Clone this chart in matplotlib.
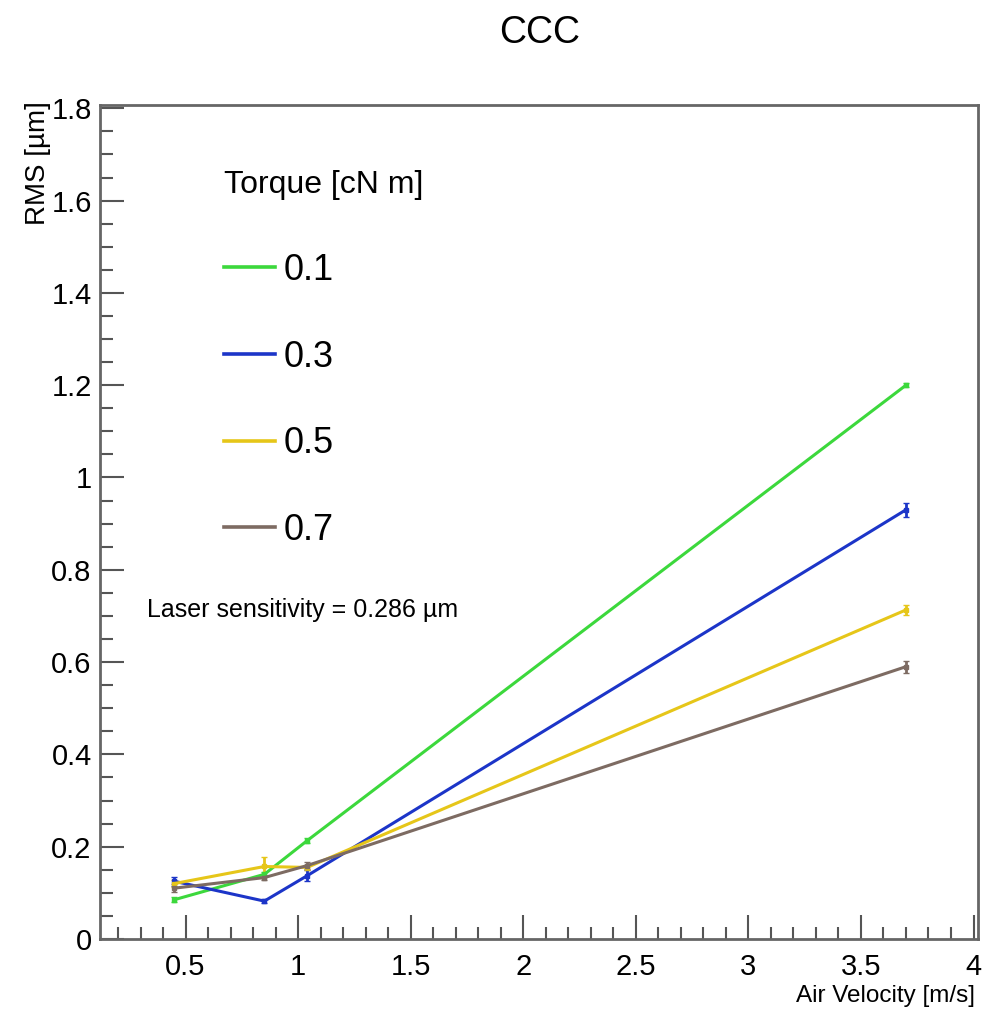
import matplotlib.pyplot as plt
from matplotlib.lines import Line2D
from matplotlib.ticker import MultipleLocator

plt.rcParams['font.family'] = ['Liberation Sans', 'DejaVu Sans']

velocity = [0.45, 0.85, 1.04, 3.7]
torques = ['0.1', '0.3', '0.5', '0.7']
rms = {
    '0.1': [0.085, 0.14, 0.213, 1.2],
    '0.3': [0.125, 0.082, 0.137, 0.93],
    '0.5': [0.12, 0.157, 0.155, 0.713],
    '0.7': [0.11, 0.133, 0.159, 0.59],
}
rms_err = {
    '0.1': [0.005, 0.005, 0.005, 0.005],
    '0.3': [0.01, 0.004, 0.012, 0.015],
    '0.5': [0.008, 0.02, 0.006, 0.01],
    '0.7': [0.008, 0.006, 0.008, 0.013],
}
colors = {'0.1': '#3cd83c', '0.3': '#1c35c8', '0.5': '#e6c619', '0.7': '#7d6b62'}

fig = plt.figure(figsize=(9.91, 10.13), dpi=100)
ax = fig.add_axes([0.1009, 0.0731, 0.886, 0.8232])

handles = []
for t in torques:
    ax.errorbar(velocity, rms[t], yerr=rms_err[t], color=colors[t], lw=2.2,
                marker='s', ms=3.5, capsize=2.5, elinewidth=2)
    handles.append(Line2D([], [], color=colors[t], lw=2.6, label=t))

ax.set_xlim(0.12, 4.02)
ax.set_ylim(0, 1.807)
ax.xaxis.set_minor_locator(MultipleLocator(0.1))
ax.yaxis.set_minor_locator(MultipleLocator(0.05))
ax.set_xticks([0.5, 1, 1.5, 2, 2.5, 3, 3.5, 4])
ax.set_xticklabels(['0.5', '1', '1.5', '2', '2.5', '3', '3.5', '4'])
ax.set_yticks([0, 0.2, 0.4, 0.6, 0.8, 1, 1.2, 1.4, 1.6, 1.8])
ax.set_yticklabels(['0', '0.2', '0.4', '0.6', '0.8', '1', '1.2', '1.4', '1.6', '1.8'])
ax.tick_params(which='both', direction='in', colors='#555555', labelcolor='black',
               labelsize=21, width=1.5)
ax.tick_params(which='major', length=17)
ax.tick_params(which='minor', length=9)
ax.tick_params(axis='x', pad=10)
ax.tick_params(axis='y', pad=6)
for s in ax.spines.values():
    s.set_color('#666666')
    s.set_linewidth(2)

leg = ax.legend(handles=handles, title='Torque [cN m]', loc='upper left',
                bbox_to_anchor=(0.125, 0.939), frameon=False, fontsize=26,
                title_fontsize=23, handlelength=1.4, labelspacing=1.43,
                handletextpad=0.25, alignment='left', borderaxespad=0)
leg._legend_box.sep = 38

ax.text(0.053, 0.395, 'Laser sensitivity = 0.286 \u00b5m', transform=ax.transAxes,
        fontsize=18, va='center', ha='left')

fig.text(0.545, 0.967, 'CCC', fontsize=27, ha='center', va='center')
fig.text(0.038, 0.9, 'RMS [\u00b5m]', fontsize=20, rotation=90, ha='center', va='top')
fig.text(0.984, 0.017, 'Air Velocity [m/s]', fontsize=17.5, ha='right', va='center')

fig.savefig('out.png', dpi=100)
